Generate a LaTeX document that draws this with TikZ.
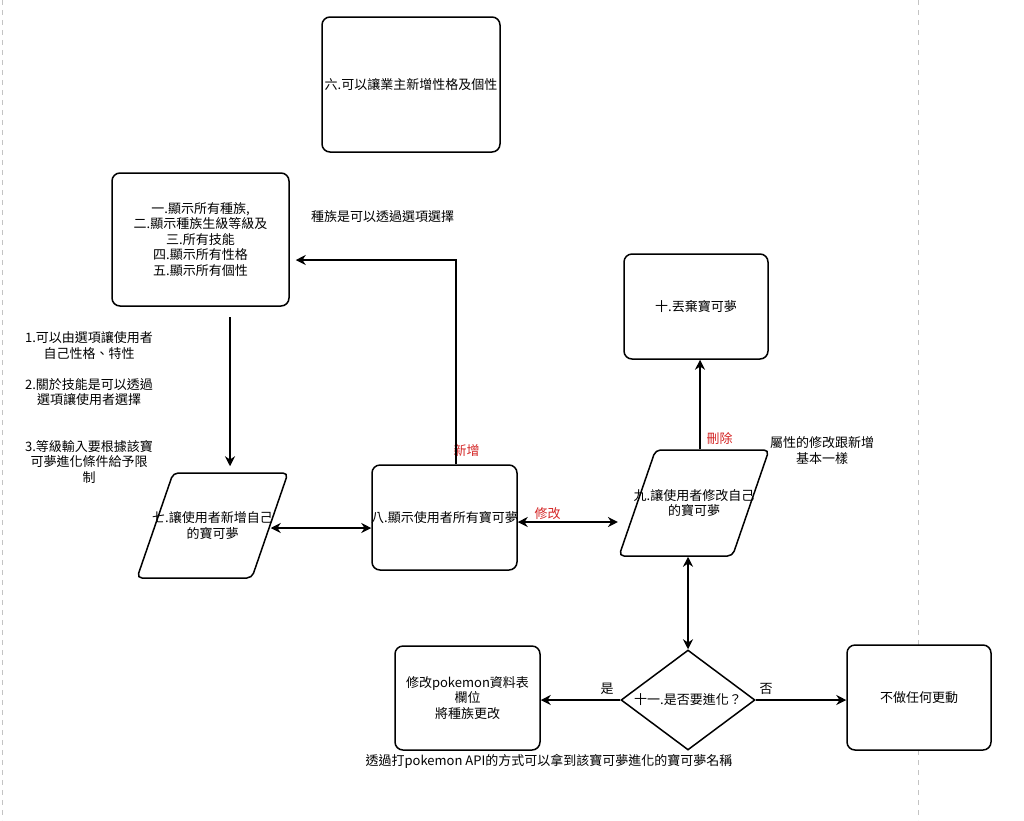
\documentclass[tikz,border=0pt]{standalone}
\usepackage{fontspec}
\setmainfont{Noto Sans CJK TC}
\usepackage{xcolor}
\usepackage{tikz}
\usetikzlibrary{shapes.geometric,arrows.meta}

\definecolor{rojo}{RGB}{212,38,38}
\definecolor{guiagris}{RGB}{195,195,195}

\begin{document}
\begin{tikzpicture}[x=1pt, y=-1pt,
        font=\fontsize{13}{15.5}\selectfont,
        every node/.append style={align=center},
        >={Stealth[length=10pt,width=10pt]},
        caja/.style={draw, rounded corners=8pt, line width=1.5pt, fill=white, inner sep=0pt},
        entrada/.style={draw, trapezium, trapezium left angle=71, trapezium right angle=109,
            trapezium stretches body, rounded corners=5pt, line width=1.5pt, fill=white,
            inner xsep=0pt, inner ysep=#1},
        pregunta/.style={draw, diamond, line width=1.5pt, fill=white, inner sep=0pt},
        flecha/.style={line width=1.5pt},
        rotulo/.style={text=rojo},
        guia/.style={draw=guiagris, line width=1pt, dash pattern=on 5pt off 5pt}
    ]
        \useasboundingbox (0,0) rectangle (1024,820);
        \draw[guia] (2,0) -- (2,820);
        \draw[guia] (918,0) -- (918,820);

        \node[caja, minimum width=178pt, minimum height=135pt,
            label=center:{六.可以讓業主新增性格及個性}] (6) at (411,84.5) {};
        \node[caja, minimum width=177pt, minimum height=133pt,
            label=center:{一.顯示所有種族,\\二.顯示種族生級等級及\\三.所有技能\\四.顯示所有性格\\五.顯示所有個性}] (1) at (200.5,239.5) {};
        \node[entrada=52.5pt, minimum width=151pt,
            label=center:{七.讓使用者新增自己\\的寶可夢}] (7) at (212.5,525.5) {};
        \node[caja, minimum width=145pt, minimum height=105pt,
            label=center:{八.顯示使用者所有寶可夢}] (8) at (444.5,517.5) {};
        \node[entrada=53pt, minimum width=150pt,
            label=center:{九.讓使用者修改自己\\的寶可夢}] (9) at (694,503) {};
        \node[caja, minimum width=144pt, minimum height=105pt,
            label=center:{十.丟棄寶可夢}] (10) at (696,306.5) {};
        \node[pregunta, minimum width=134pt, minimum height=100pt,
            label=center:{十一.是否要進化？}] (11) at (688,700) {};
        \node[caja, minimum width=145pt, minimum height=104pt,
            label=center:{修改pokemon資料表\\欄位\\將種族更改}] (si) at (467.5,698) {};
        \node[caja, minimum width=144pt, minimum height=105pt,
            label=center:{不做任何更動}] (no) at (919,697.5) {};

        \node (notaraza) at (382.5,217) {種族是可以透過選項選擇};
        \node (nota1) at (89,345.5) {1.可以由選項讓使用者\\自己性格、特性};
        \node (nota2) at (89,392) {2.關於技能是可以透過\\選項讓使用者選擇};
        \node (nota3) at (89,461.5) {3.等級輸入要根據該寶\\可夢進化條件給予限\\制};
        \node (notaatrib) at (822,450.5) {屬性的修改跟新增\\基本一樣};
        \node (notaapi) at (549,761) {透過打pokemon API的方式可以拿到該寶可夢進化的寶可夢名稱};

        \node[rotulo] (lnuevo) at (466.5,450) {新增};
        \node[rotulo] (lmod) at (547.5,514) {修改};
        \node[rotulo] (lborrar) at (719.5,439) {刪除};
        \node (lsi) at (607,689) {是};
        \node (lno) at (766,689) {否};

        \coordinate (giro) at (456,260);
        \coordinate (bajada) at (230,317);

        \draw[flecha, ->, shorten >=6pt] (8.north -| giro) -- (giro) -- (1.east |- giro);  % nuevo
        \draw[flecha, ->, shorten >=6pt] (bajada) -- (bajada |- 7.north);
        \draw[flecha, <->] ([yshift=-2.5pt]7.east) -- ([yshift=-2.5pt]7.east -| 8.west);
        \draw[flecha, <->] ([yshift=-4.5pt]8.east) -- ([yshift=-4.5pt]8.east -| 9.bottom left corner);  % modificar
        \draw[flecha, ->] ([xshift=4pt]10.south |- 9.north) -- ([xshift=4pt]10.south);
        \draw[flecha, <->] (11.north |- 9.south) -- (11.north);
        \draw[flecha, ->] (11.west) -- (11.west -| si.east);
        \draw[flecha, ->] (11.east) -- (11.east -| no.west);
    \end{tikzpicture}
\end{document}
